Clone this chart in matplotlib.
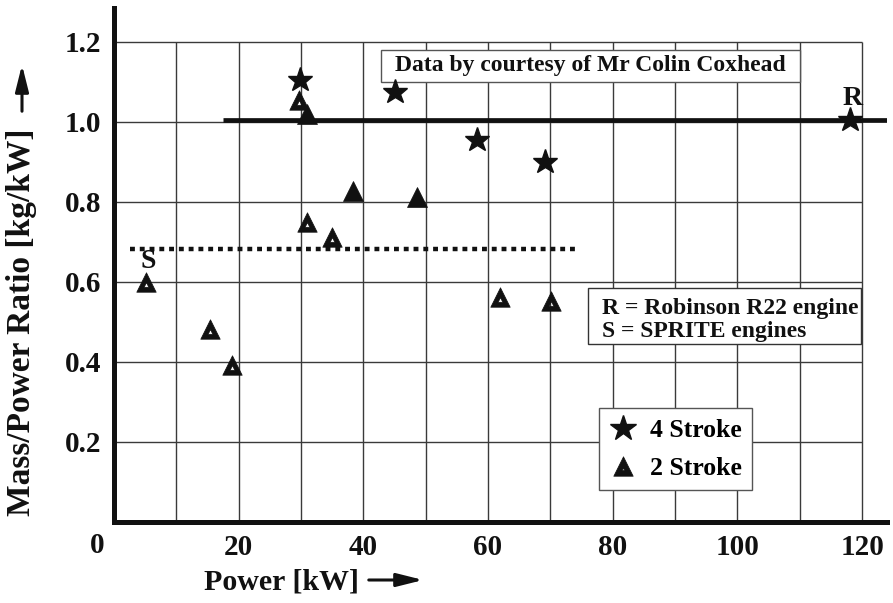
import matplotlib
matplotlib.use("Agg")
import matplotlib.pyplot as plt
import numpy as np
from matplotlib.path import Path
from matplotlib.lines import Line2D
from matplotlib.patches import Rectangle, FancyArrowPatch

plt.rcParams['font.family'] = ['Liberation Serif', 'DejaVu Serif']
plt.rcParams['font.weight'] = 'bold'

# ---- data ----
four_x = [29.9, 45.1, 58.3, 69.2, 118.1]
four_y = [1.105, 1.075, 0.955, 0.900, 1.003]

two_x = [5.2, 15.4, 19.0, 29.7, 30.9, 30.9, 35.0, 38.3, 48.6, 62.0, 70.1]
two_y = [0.600, 0.482, 0.392, 1.055, 1.020, 0.748, 0.712, 0.827, 0.811, 0.562, 0.552]
two_hollow = [True, True, True, True, False, True, True, False, False, True, True]

robinson_level = 1.005
robinson_start = 17.5
sprite_level = 0.681
sprite_range = (2.6, 74.3)

x_ticks = [20, 40, 60, 80, 100, 120]
y_ticks = [0.2, 0.4, 0.6, 0.8, 1.0, 1.2]
y_tick_labels = ['0.2', '0.4', '0.6', '0.8', '1.0', '1.2']
grid_x = [10, 20, 30, 40, 50, 60, 70, 80, 90, 100, 110, 120]
grid_y = [0.2, 0.4, 0.6, 0.8, 1.0, 1.2]

legend_labels = ['4 Stroke', '2 Stroke']
note_text = 'Data by courtesy of Mr Colin Coxhead'
key_lines = ['R = Robinson R22 engine', 'S = SPRITE engines']

# ---- markers ----
def hollow_triangle(s):
    c = -1.0 / 3.0
    verts = [(0, 1), (-1, -1), (1, -1), (0, 1),
             (0, c + s * 4 / 3), (s, c - s * 2 / 3), (-s, c - s * 2 / 3), (0, c + s * 4 / 3)]
    codes = [Path.MOVETO, Path.LINETO, Path.LINETO, Path.CLOSEPOLY,
             Path.MOVETO, Path.LINETO, Path.LINETO, Path.CLOSEPOLY]
    return Path(verts, codes)

tri_hollow = hollow_triangle(0.24)
tri_legend = hollow_triangle(0.12)

W, H = 893, 603
fig = plt.figure(figsize=(W / 100, H / 100), dpi=100)
x0, y0 = 114, 521.7
ax = fig.add_axes([x0 / W, 1 - y0 / H, (887 - x0) / W, (y0 - 8) / H])
ax.set_xlim(0, 124)
ax.set_ylim(0, 1.284)

for s in ['top', 'right']:
    ax.spines[s].set_visible(False)
for s in ['left', 'bottom']:
    ax.spines[s].set_linewidth(3.6)
    ax.spines[s].set_color('#111111')
    ax.spines[s].set_zorder(6)

# grid
ax.vlines(grid_x, 0, max(grid_y), color='#3a3a3a', lw=1.0, zorder=1)
ax.hlines(grid_y, 0, max(grid_x), color='#3a3a3a', lw=1.0, zorder=1)

# ticks
ax.set_xticks(x_ticks)
ax.set_xticklabels([str(v) for v in x_ticks])
ax.set_yticks(y_ticks)
ax.set_yticklabels(y_tick_labels)
ax.tick_params(length=0, labelsize=21, colors='#111111')
ax.tick_params(axis='x', pad=9)
ax.tick_params(axis='y', pad=9)
ax.annotate('0', xy=(0, 0), xytext=(-12, -17), textcoords='offset points',
            ha='center', va='center', fontsize=21, color='#111111')

# reference lines
ax.hlines(robinson_level, robinson_start, 124, color='#111111', lw=3.4, zorder=3)
ax.hlines(sprite_level, sprite_range[0], sprite_range[1], color='#111111', lw=3.2,
          linestyles=(0, (1.1, 1.1)), zorder=3)

# points
ax.plot(four_x, four_y, ls='none', marker='*', ms=18.5, color='#111111', zorder=5)
hx = [x for x, h in zip(two_x, two_hollow) if h]
hy = [y for y, h in zip(two_y, two_hollow) if h]
fx = [x for x, h in zip(two_x, two_hollow) if not h]
fy = [y for y, h in zip(two_y, two_hollow) if not h]
ax.plot(hx, hy, ls='none', marker=tri_hollow, ms=14, color='#111111', mew=0.5, zorder=5)
ax.plot(fx, fy, ls='none', marker='^', ms=14, color='#111111', mew=0.5, zorder=5)

# labels R and S
ax.text(118.4, 1.058, 'R', ha='center', va='center', fontsize=20, color='#111111', zorder=6)
ax.text(5.5, 0.650, 'S', ha='center', va='center', fontsize=20, color='#111111', zorder=6)

# note box
ax.add_patch(Rectangle((42.86, 1.100), 110.0 - 42.86, 1.179 - 1.100, facecolor='white',
                       edgecolor='#555555', lw=1.0, zorder=4))
ax.text((42.86 + 110.0) / 2, 1.1395, note_text, ha='center', va='center', fontsize=17,
        color='#111111', zorder=5)

# key box
ax.add_patch(Rectangle((76.1, 0.4435), 119.8 - 76.1, 0.5835 - 0.4435, facecolor='white',
                       edgecolor='#333333', lw=1.0, zorder=4))
ax.text(78.3, 0.5335, key_lines[0], ha='left', va='center', fontsize=17, color='#111111', zorder=5)
ax.text(78.3, 0.475, key_lines[1], ha='left', va='center', fontsize=17, color='#111111', zorder=5)

# legend
h1 = Line2D([], [], ls='none', marker='*', ms=19, color='#111111')
h2 = Line2D([], [], ls='none', marker=tri_legend, ms=14, color='#111111', mew=0.5)
leg = ax.legend([h1, h2], legend_labels, loc='upper left',
                bbox_to_anchor=(0.628, 0.2208), borderaxespad=0, fancybox=False,
                framealpha=1, edgecolor='#555555', prop={'size': 18.5, 'weight': 'bold'},
                handlelength=1.0, handletextpad=0.55, labelspacing=0.6, borderpad=0.4)
leg.get_frame().set_linewidth(1.0)
leg.set_zorder(7)

# axis labels with arrows
fig.text(282 / W, 21 / H, 'Power [kW]', ha='center', va='center', fontsize=21.5, color='#111111')
fig.text(22 / W, 1 - 322.5 / H, 'Mass/Power Ratio [kg/kW]', ha='center', va='center',
         rotation=90, fontsize=24, color='#111111')
arr_kw = dict(arrowstyle='-|>,head_length=1.0,head_width=0.25', mutation_scale=16,
              lw=2.2, color='#111111', transform=fig.transFigure)
fig.add_artist(FancyArrowPatch((366 / W, 23 / H), (426 / W, 23 / H), **arr_kw))
fig.add_artist(FancyArrowPatch((22 / W, 1 - 114 / H), (22 / W, 1 - 62 / H), **arr_kw))

fig.savefig('out.png', dpi=100)
